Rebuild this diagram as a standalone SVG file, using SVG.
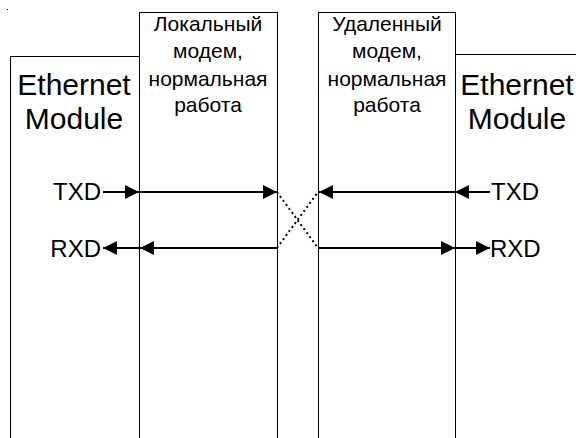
<svg xmlns="http://www.w3.org/2000/svg" width="576" height="438" viewBox="0 0 576 438">
<style>
.box{fill:#fff;stroke:#000;stroke-width:1}
.big{font-family:"Liberation Sans",Arial,sans-serif;font-size:30px;fill:#000;text-anchor:middle}
.mid{font-family:"Liberation Sans",Arial,sans-serif;font-size:21px;fill:#000;text-anchor:middle}
.sig{font-family:"Liberation Sans",Arial,sans-serif;font-size:24px;fill:#000}
.ln{stroke:#000;stroke-width:2;fill:none;marker-end:url(#ah)}
.dot{stroke:#000;stroke-width:2;fill:none;stroke-dasharray:2 3}
</style>
<defs>
<marker id="ah" markerUnits="userSpaceOnUse" markerWidth="15" markerHeight="15" refX="14" refY="7" orient="auto" viewBox="0 0 15 15">
<path d="M0,0 L14,7 L0,14 z" fill="#000"/>
</marker>
</defs>
<rect x="7" y="9" width="1" height="1" fill="#000"/>
<g id="eth-left">
<rect class="box" x="10.5" y="56.5" width="129" height="400"/>
<text class="big" x="74" y="95">Ethernet</text>
<text class="big" x="74" y="129">Module</text>
</g>
<g id="modem-local">
<rect class="box" x="139.5" y="12.5" width="138" height="440"/>
<text class="mid" x="208" y="31">Локальный</text>
<text class="mid" x="208" y="58">модем,</text>
<text class="mid" x="208" y="86">нормальная</text>
<text class="mid" x="208" y="112">работа</text>
</g>
<g id="modem-remote">
<rect class="box" x="318.5" y="12.5" width="137" height="440"/>
<text class="mid" x="387" y="31">Удаленный</text>
<text class="mid" x="387" y="58">модем,</text>
<text class="mid" x="387" y="86">нормальная</text>
<text class="mid" x="387" y="112">работа</text>
</g>
<g id="eth-right">
<rect class="box" x="455.5" y="54.5" width="140" height="400"/>
<text class="big" x="517" y="95">Ethernet</text>
<text class="big" x="517" y="129">Module</text>
</g>
<g id="labels">
<text class="sig" x="101" y="200" text-anchor="end">TXD</text>
<text class="sig" x="101" y="257" text-anchor="end">RXD</text>
<text class="sig" x="491" y="200">TXD</text>
<text class="sig" x="490" y="257">RXD</text>
</g>
<g id="connectors">
<line class="ln" x1="103" y1="192" x2="139" y2="192"/>
<line class="ln" x1="139" y1="192" x2="277" y2="192"/>
<line class="ln" x1="139" y1="248" x2="103" y2="248"/>
<line class="ln" x1="277" y1="248" x2="140" y2="248"/>
<line class="ln" x1="490" y1="192" x2="455" y2="192"/>
<line class="ln" x1="455" y1="192" x2="319" y2="192"/>
<line class="ln" x1="318" y1="248" x2="455" y2="248"/>
<line class="ln" x1="455" y1="248" x2="490" y2="248"/>
<line class="dot" x1="277" y1="192" x2="318" y2="248"/>
<line class="dot" x1="277" y1="248" x2="318" y2="192"/>
</g>
</svg>
